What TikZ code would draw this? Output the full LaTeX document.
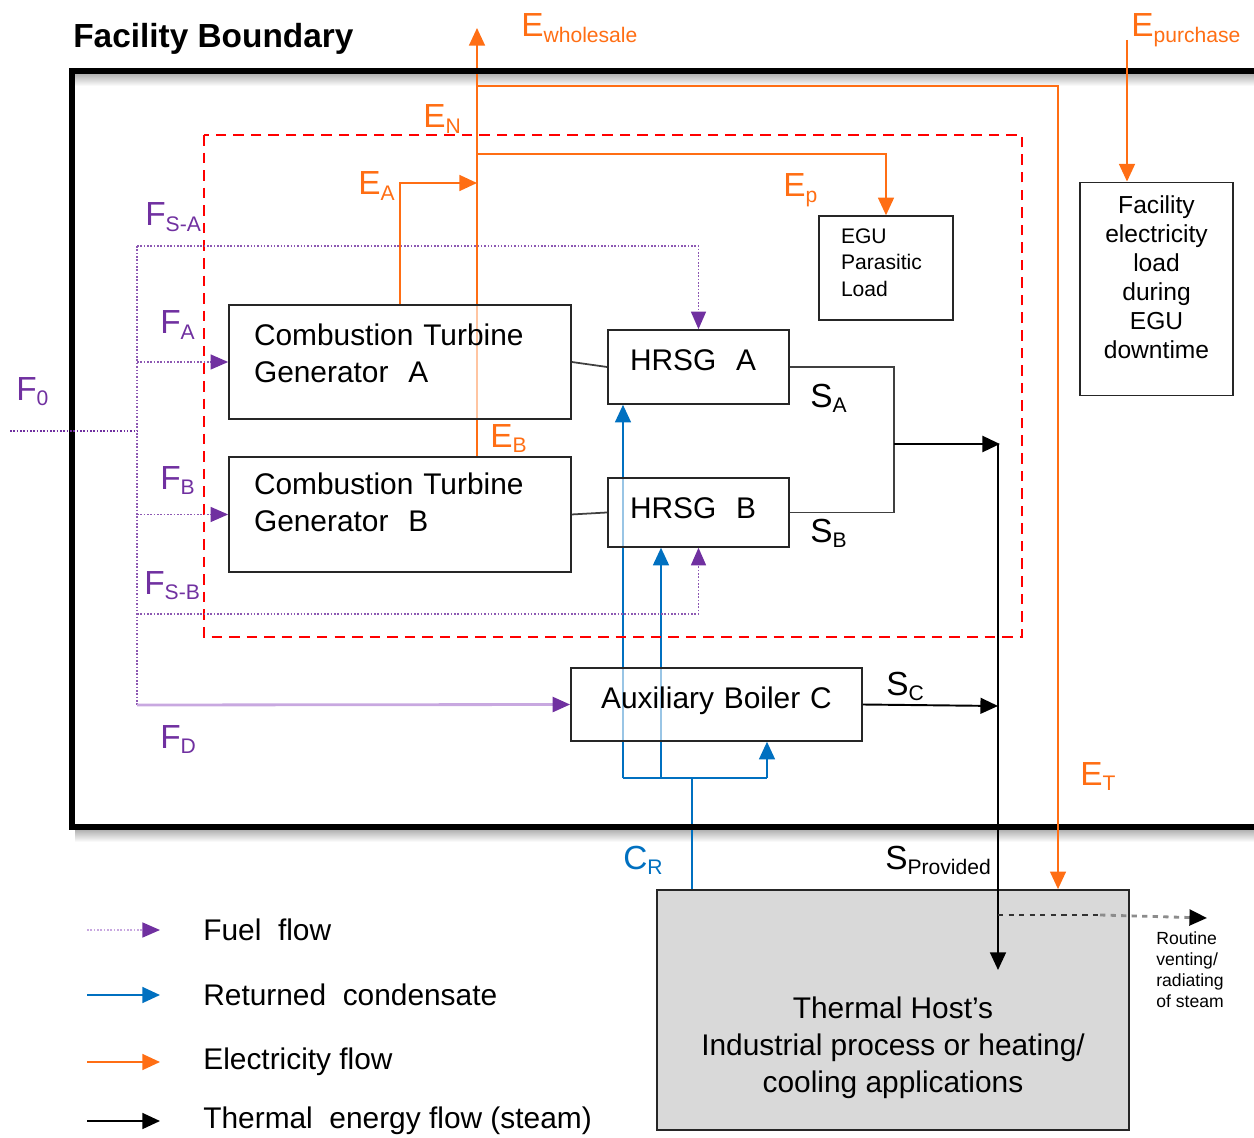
\documentclass[tikz,border=0pt]{standalone}
\usepackage{fontspec}
\setmainfont{Liberation Sans}
\usetikzlibrary{arrows.meta,positioning,backgrounds}
\definecolor{fuelc}{RGB}{112,48,160}
\definecolor{fuellt}{RGB}{200,168,224}
\definecolor{elecc}{RGB}{255,110,20}
\definecolor{condc}{RGB}{0,112,192}
\definecolor{hostgray}{RGB}{217,217,217}
\newcommand{\flowlbl}[2]{#1\raisebox{-3pt}{\fontsize{12}{12}\selectfont #2}}

\begin{document}
\begin{tikzpicture}[x=0.02cm, y=-0.02cm]
\tikzstyle{unitbox} = [rectangle, draw=black!85, line width=1pt, fill=white, fill opacity=0.6, text opacity=1, inner ysep=0pt, align=left, font=\fontsize{17}{21}\selectfont]
\tikzstyle{smallbox} = [rectangle, draw=black!85, line width=1pt, fill=white, inner ysep=0pt]
\tikzstyle{hostbox} = [rectangle, draw=black!85, line width=1pt, fill=hostgray, minimum width=9.44cm, minimum height=4.8cm]
\tikzstyle{flowlbl} = [inner sep=0pt, anchor=base west, font=\fontsize{19}{20}\selectfont]
\tikzstyle{legtxt} = [inner sep=0pt, anchor=west, font=\fontsize{17}{20}\selectfont]

\tikzstyle{fuel} = [draw=fuelc!80, densely dotted, line width=0.9pt]
\tikzstyle{fuelarrow} = [fuel, -{Triangle[length=10pt,width=8.5pt,color=fuelc]}]
\tikzstyle{fuelthick} = [draw=fuellt, line width=1.6pt, -{Triangle[length=10pt,width=8.5pt,color=fuelc]}]
\tikzstyle{elecline} = [draw=elecc, line width=1.1pt]
\tikzstyle{elec} = [elecline, -{Triangle[length=10pt,width=9pt]}]
\tikzstyle{condline} = [draw=condc, line width=1.1pt]
\tikzstyle{cond} = [condline, -{Triangle[length=10pt,width=9pt]}]
\tikzstyle{steamline} = [draw=black!75, line width=1pt]
\tikzstyle{steam} = [draw=black, line width=1.1pt, -{Triangle[length=10pt,width=9pt]}]

\useasboundingbox (0,0) rectangle (1254,1138);

% boundaries
\draw[line width=3.5pt] (1254,71) -- (72,71) -- (72,827) -- (1254,827);
\draw[red, line width=1.1pt, dash pattern=on 6pt off 4pt] (204,135) rectangle (1022,637);
\node (title) [anchor=base west, inner sep=0pt, font=\fontsize{19}{20}\selectfont\bfseries] at (73,48) {Facility Boundary};

%nodes
\node (cta) [unitbox, text width=5.84cm, inner xsep=0.5cm, text height=22.7pt, text depth=41.9pt] at (400,362) {Combustion Turbine\\Generator~ A};
\node (ctb) [unitbox, text width=5.84cm, inner xsep=0.5cm, text height=21.5pt, text depth=43.7pt, below of=cta, yshift=-2.05cm] {Combustion Turbine\\Generator~ B};
\node (hrsga) [unitbox, text width=2.74cm, inner xsep=0.44cm, text height=23.2pt, text depth=18.8pt] at (698.5,367) {HRSG~ A};
\node (hrsgb) [unitbox, text width=2.74cm, inner xsep=0.44cm, text height=23.2pt, text depth=15.9pt, below of=hrsga, yshift=-1.91cm] {HRSG~ B};
\node (egu) [smallbox, text width=1.8cm, inner xsep=0.44cm, text height=15.6pt, text depth=43.4pt, align=left, font=\fontsize{12}{15}\selectfont] at (886,268) {EGU\\Parasitic\\Load};
\node (fac) [smallbox, text width=2.8cm, inner xsep=0.13cm, text height=17.6pt, text depth=103.7pt, align=center, font=\fontsize{14}{16.5}\selectfont] at (1156.5,289) {Facility\\electricity\\load\\during\\EGU\\downtime};
\node (aux) [unitbox, align=center, text width=5.42cm, inner xsep=0.2cm, text height=23.2pt, text depth=18.2pt] at (716.5,704.5) {Auxiliary Boiler C};
\node (host) [hostbox, label={[align=center, font=\fontsize{17}{21}\selectfont, yshift=-0.76cm]center:Thermal Host’s\\Industrial process or heating/\\cooling applications}] at (893,1010) {};

%junctions
\coordinate (fin) at (10,431);
\coordinate (fsplit) at (137,431);
\coordinate (ftop) at (137,246);
\coordinate (fsb) at (137,614);
\coordinate (fbot) at (137,705);
\coordinate (ewtop) at (477,28);
\coordinate (etop) at (477,86);
\coordinate (ep) at (477,154);
\coordinate (ea) at (477,183);
\coordinate (et) at (1058,86);
\coordinate (epur) at (1127,40);
\coordinate (sjoin) at (894,444);
\coordinate (sarrow) at (1000,444);
\coordinate (sdrop) at (998,444);
\coordinate (sinto) at (998,970);
\coordinate (sctip) at (998,706);
\coordinate (ventsrc) at (998,915);
\coordinate (ventmid) at (1100,915);
\coordinate (venttip) at (1207,918);
\coordinate (cr) at (692,778);
\coordinate (crl) at (623,778);
\coordinate (crm) at (661,778);
\coordinate (crr) at (767,778);

%arrows behind the boxes
\begin{pgfonlayer}{background}
\shade[top color=black!30, bottom color=white] (75,74) rectangle (1254,86);
\shade[top color=black!30, bottom color=white] (75,830) rectangle (1254,842);
\draw [elec] (ewtop |- ctb.north) -- (ewtop);
\draw [condline] (host.north -| cr) -- (cr);
\draw [condline] (crl) -- (crr);
\draw [cond] (crl) -- (crl |- hrsga.south);
\draw [cond] (crm) -- (crm |- hrsgb.south);
\draw [cond] (crr) -- (crr |- aux.south);
\end{pgfonlayer}

%fuel
\draw [fuel, draw=fuelc] (fin) -- (fsplit);
\draw [fuel] (ftop) -- (fbot);
\draw [fuelarrow] (ftop) -| (hrsga.north);
\draw [fuelarrow] (ftop |- cta.west) -- (cta.west);
\draw [fuelarrow] (ftop |- ctb.west) -- (ctb.west);
\draw [fuelarrow] (fsb) -| (hrsgb.south);
\draw [fuelthick] (fbot) -- (aux.west);

%electricity
\draw [elec] (cta.north) |- (ea);
\draw [elec] (ep) -| (egu.north);
\draw [elec] (etop) -- (et) -- (et |- host.north);
\draw [elec] (epur) -- (epur |- fac.north);

%steam
\draw [steamline] (cta.east) -- (hrsga.west);
\draw [steamline] (ctb.east) -- (hrsgb.west);
\draw [steamline] (hrsga.east) -| (sjoin) |- (hrsgb.east);
\draw [steam, line width=1.6pt] (sjoin) -- (sarrow);
\draw [steam] (sdrop) -- (sinto);
\draw [steam] (aux.east) -- (sctip);
\draw [black!80, line width=1pt, dashed] (ventsrc) -- (ventmid);
\draw [black!45, line width=1.6pt, dashed, -{Triangle[length=10pt,width=9pt,color=black]}] (ventmid) -- (venttip);
\node (venttxt) [anchor=north west, inner sep=0pt, align=left, font=\fontsize{10}{12}\selectfont] at (1156,931) {Routine\\venting/\\radiating\\of steam};

%labels
\node (lew) [flowlbl, elecc] at (521,37) {\flowlbl{E}{wholesale}};
\node (lepur) [flowlbl, elecc] at (1131,37) {\flowlbl{E}{purchase}};
\node (len) [flowlbl, elecc] at (423,128) {\flowlbl{E}{N}};
\node (lea) [flowlbl, elecc] at (358,195) {\flowlbl{E}{A}};
\node (lep) [flowlbl, elecc] at (783,197) {\flowlbl{E}{p}};
\node (leb) [flowlbl, elecc] at (490,447) {\flowlbl{E}{B}};
\node (let) [flowlbl, elecc] at (1080,785) {\flowlbl{E}{T}};
\node (lf0) [flowlbl, fuelc] at (16,400) {\flowlbl{F}{0}};
\node (lfsa) [flowlbl, fuelc] at (145,226) {\flowlbl{F}{S-A}};
\node (lfa) [flowlbl, fuelc] at (160,334) {\flowlbl{F}{A}};
\node (lfb) [flowlbl, fuelc] at (160,489) {\flowlbl{F}{B}};
\node (lfsb) [flowlbl, fuelc] at (144,594) {\flowlbl{F}{S-B}};
\node (lfd) [flowlbl, fuelc] at (160,748) {\flowlbl{F}{D}};
\node (lsa) [flowlbl] at (810,407) {\flowlbl{S}{A}};
\node (lsb) [flowlbl] at (810,542) {\flowlbl{S}{B}};
\node (lsc) [flowlbl] at (886,695) {\flowlbl{S}{C}};
\node (lsp) [flowlbl] at (885,869) {\flowlbl{S}{Provided}};
\node (lcr) [flowlbl, condc] at (623,869) {\flowlbl{C}{R}};

%legend
\node (lgfuel) [legtxt] at (203,930) {Fuel~ flow};
\node (lgcond) [legtxt] at (203,995) {Returned~ condensate};
\node (lgelec) [legtxt] at (203,1062) {Electricity flow};
\node (lgsteam) [legtxt] at (203,1121) {Thermal~ energy flow (steam)};
\draw [fuelarrow, draw=fuellt] ([xshift=-2.32cm]lgfuel.west) -- ([xshift=-0.86cm]lgfuel.west);
\draw [cond] ([xshift=-2.32cm]lgcond.west) -- ([xshift=-0.86cm]lgcond.west);
\draw [elec] ([xshift=-2.32cm]lgelec.west) -- ([xshift=-0.86cm]lgelec.west);
\draw [steam] ([xshift=-2.32cm]lgsteam.west) -- ([xshift=-0.86cm]lgsteam.west);
\end{tikzpicture}
\end{document}
